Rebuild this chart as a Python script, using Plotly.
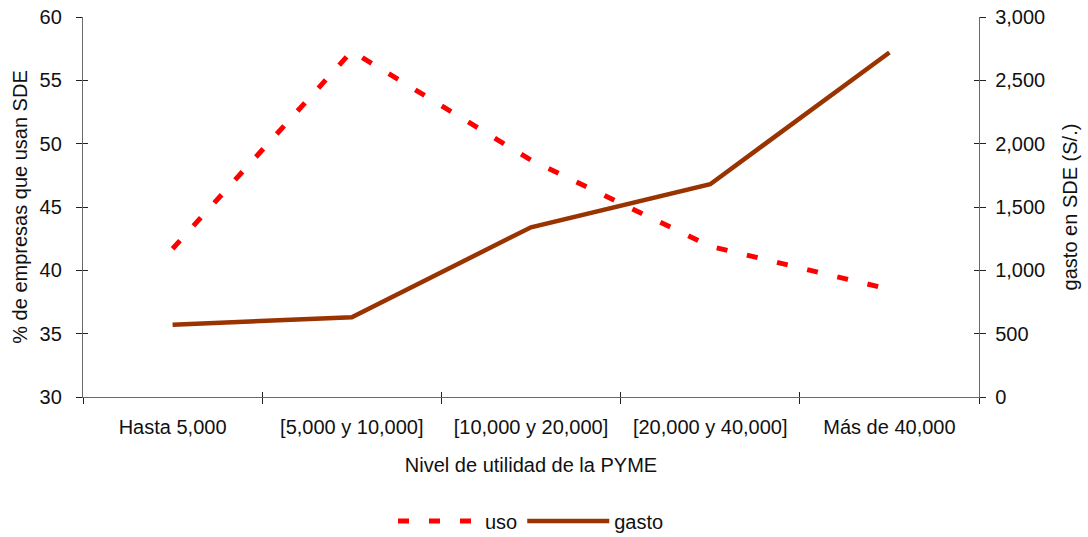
import plotly.graph_objects as go

categorias = ["Hasta 5,000", "[5,000 y 10,000]", "[10,000 y 20,000]", "[20,000 y 40,000]", "Más de 40,000"]
uso = [41.7, 57.3, 48.7, 41.9, 38.5]
gasto = [570, 630, 1340, 1680, 2720]

font_family = "Liberation Sans, Arial, sans-serif"
fsize = 20
txt = "#111111"

fig = go.Figure()
fig.add_trace(go.Scatter(
    x=categorias, y=uso, name="uso", mode="lines",
    line=dict(color="#ff0000", width=5, dash="11px,20px"),
    xaxis="x", yaxis="y"))
fig.add_trace(go.Scatter(
    x=categorias, y=gasto, name="gasto", mode="lines",
    line=dict(color="#993300", width=4.5),
    xaxis="x", yaxis="y2"))
# empty helper traces so the tick-only overlay axes are drawn
fig.add_trace(go.Scatter(x=[], y=[], xaxis="x2", yaxis="y3", showlegend=False, hoverinfo="skip"))
fig.add_trace(go.Scatter(x=[], y=[], xaxis="x2", yaxis="y4", showlegend=False, hoverinfo="skip"))

base = dict(showline=True, linecolor="#6a6a6a", linewidth=1.3, ticks="outside",
            tickcolor="#222222", ticklen=6, tickwidth=1, showgrid=False, zeroline=False,
            automargin=False, ticklabeloverflow="allow",
            tickfont=dict(size=fsize, color=txt, family=font_family))

fig.update_layout(
    width=1088, height=537,
    margin=dict(l=83, r=109, t=17, b=140, autoexpand=False),
    paper_bgcolor="white", plot_bgcolor="white",
    font=dict(family=font_family, size=fsize, color=txt),
    xaxis=dict(**base, type="category", range=[-0.5, 4.5], tickson="boundaries",
               ticklabelstandoff=12,
               title=dict(text="Nivel de utilidad de la PYME", standoff=20,
                          font=dict(size=fsize, color=txt))),
    yaxis=dict(**base, range=[30, 60], dtick=5, ticklabelstandoff=10,
               title=dict(text="% de empresas que usan SDE", standoff=6,
                          font=dict(size=fsize, color=txt))),
    yaxis2=dict(**base, range=[0, 3000], dtick=500, overlaying="y", side="right",
                anchor="x", tickformat=",d", ticklabelstandoff=5,
                title=dict(text="gasto en SDE (S/.)", standoff=18,
                           font=dict(size=fsize, color=txt))),
    # inside tick halves (the reference ticks cross the axis lines)
    xaxis2=dict(overlaying="x", anchor="y", side="bottom", range=[-0.5, 4.5],
                tickmode="array", tickvals=[0.5, 1.5, 2.5, 3.5], ticks="inside",
                ticklen=5, tickcolor="#222222", showticklabels=False, showgrid=False,
                zeroline=False, showline=False, automargin=False),
    yaxis3=dict(overlaying="y", anchor="x", side="left", range=[30, 60], dtick=5,
                ticks="inside", ticklen=5, tickcolor="#222222", showticklabels=False,
                showgrid=False, zeroline=False, showline=False, automargin=False),
    yaxis4=dict(overlaying="y", anchor="x", side="right", range=[0, 3000], dtick=500,
                ticks="inside", ticklen=5, tickcolor="#222222", showticklabels=False,
                showgrid=False, zeroline=False, showline=False, automargin=False),
    legend=dict(orientation="h", x=0.5, xanchor="center", y=-0.326, yanchor="middle",
                font=dict(size=fsize, color=txt), itemwidth=82, tracegroupgap=0,
                bgcolor="rgba(0,0,0,0)"),
    showlegend=True,
)

# remove the default 8px page margin so the figure fills the window exactly
fig.write_html("out.html", config={"displayModeBar": False},
               post_script="document.body.style.margin='0';")
